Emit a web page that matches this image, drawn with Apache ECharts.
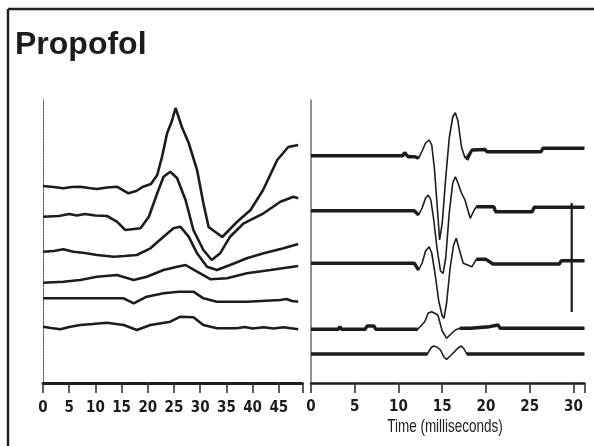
<!DOCTYPE html>
<html>
<head>
<meta charset="utf-8">
<script src="https://cdn.jsdelivr.net/npm/echarts@6/dist/echarts.min.js"></script>
<style>html,body{margin:0;padding:0;background:#fff}#c{width:594px;height:446px}</style>
</head>
<body>
<div id="c"></div>
<script>
// ---- Data (arbitrary vertical units; traces offset) ----
const titleText = "Propofol";
const leftTicks = [0,5,10,15,20,25,30,35,40,45];
const rightTicks = [0,5,10,15,20,25,30];
const rightAxisName = "Time (milliseconds)";

// Left panel traces: [x, y]
const L1 = [[0,197],[2,196],[3.9,194.7],[5.5,196],[7.1,196.3],[8.8,195],[10.3,194],[12.2,195.5],[14.1,196.3],[16.3,189.7],[17.8,192],[19.1,196.3],[20.6,199],[21.8,208],[22.7,226],[23.7,250],[24.6,262],[25.3,275],[26.5,256],[27.8,240],[29.4,213],[30.6,180],[31.6,156],[34.2,146],[37,161],[39.6,173],[42,193],[44.7,223],[46.8,236],[48.7,238]];
const L2 = [[0,166.3],[3,167],[5,169],[6.5,167.5],[8,169],[10,167.5],[12.2,167],[14.1,161.3],[15.7,153],[18.6,154.7],[20.2,166.3],[21.8,189.7],[23,206.3],[24.3,211.3],[25.6,204.7],[27.2,183],[28.7,153],[30.6,133],[32.2,123],[33.8,129.7],[35.7,146.3],[38.3,159.7],[42.1,169.7],[45.3,181.3],[47.8,186.3],[48.7,184.7]];
const L3 = [[0,131.3],[2,132],[3.9,133.7],[5.8,131.3],[8,130],[10.3,128],[13.5,126.3],[15.5,127],[17.9,128],[20.5,134.7],[23,146.3],[24.9,154.7],[26.2,156.3],[27.8,146.3],[29.4,129.7],[31.3,116.3],[33.2,113],[35.7,118],[38.9,124.7],[42.1,129.7],[45.9,134.7],[48.7,139]];
const L4 = [[0,100.3],[3.9,101.3],[7.1,103],[10.3,106.3],[14.1,108],[17.3,103],[19.8,106.3],[23,113],[25.6,116.3],[27.2,118],[29.4,111.3],[32,103.7],[35.1,104.7],[38.9,109.7],[43.4,113],[48.7,117]];
const L5 = [[0,84.7],[15.4,84.7],[17.3,79.7],[19.8,86.3],[23,89.7],[25.9,91.3],[28.7,91.3],[30.6,84.7],[33.2,81.3],[38.9,81.3],[45.3,83],[46.5,84],[47.5,82],[48.7,81.3]];
const L6 = [[0,56.3],[1.5,55],[3.3,53.7],[5,56],[7.1,58],[9.5,59],[12.2,60.3],[15.4,58],[17.9,53],[20.5,58],[24.3,61.3],[26.2,66.3],[28.7,65.7],[30.6,58],[33.2,54.7],[37,54.7],[38.5,56],[40,54.5],[42.1,55.7],[44,54.5],[45.9,55.7],[48.7,53.7]];

// Right panel traces: [time ms, y]
const R1 = [[0,227.3],[10.5,227.3],[10.7,230.5],[10.9,230.5],[11.1,226.3],[11.9,226.3],[12.3,224.7],[12.7,232],[13.1,240],[13.5,243],[13.8,238],[14.1,215],[14.4,180],[14.7,143],[15.0,160],[15.4,205],[15.8,245],[16.2,266],[16.5,270.3],[16.8,262],[17.2,236],[17.6,225],[17.8,223],[18.2,230],[18.4,233],[19.9,233.5],[20.1,231.3],[26.3,231.3],[26.5,234.7],[31.25,234.7]];
const R2 = [[0,172.3],[11.8,172.3],[12.3,168],[12.7,175],[13.1,185],[13.4,188],[13.7,183],[14.0,165],[14.4,135],[14.8,112],[15.1,109.7],[15.4,125],[15.8,170],[16.2,200],[16.5,206.3],[16.8,200],[17.2,190],[17.6,183],[18.2,164.7],[18.6,172],[18.9,176.3],[20.9,176.3],[21.1,171.3],[25.3,171.3],[25.5,175.7],[31.25,175.7]];
const R3 = [[0,119.7],[11.8,119.7],[12.3,113],[12.7,120],[13.1,132],[13.5,136.3],[13.8,130],[14.2,108],[14.6,82],[15.0,67],[15.2,64.7],[15.5,80],[15.9,115],[16.3,138],[16.6,144.7],[16.9,135],[17.4,119.7],[18.4,116.3],[18.9,123.7],[20.0,123.7],[20.8,119],[28.4,119],[28.6,122.3],[31.25,122.3]];
const R4 = [[0,53.7],[3.1,53.7],[3.3,56.3],[3.5,53.7],[6.2,53.7],[6.4,57],[7.2,57],[7.4,53.7],[12.2,53.7],[13.0,61.3],[13.4,70],[13.8,71.3],[14.5,68],[15.0,52],[15.5,44.7],[16.0,49],[16.5,53],[17.0,54.7],[18.2,54.7],[18.4,56.3],[20.4,56.3],[20.6,58],[21.4,58],[21.6,54.7],[31.25,54.7]];
const R5 = [[0,29],[13.3,29],[13.7,35],[14.0,37],[14.4,36],[14.8,33],[15.2,26],[15.5,23.7],[15.9,27],[16.4,31.3],[16.8,35],[17.2,37],[17.5,34],[17.8,29],[31.25,29]];
const scaleBar = [[29.8,180],[29.8,71]];

const INK = '#1c1c1c';
const labelFont = "'Liberation Sans Narrow','DejaVu Sans Condensed','Roboto Condensed',sans-serif";

function leftSeries(d){
  return {type:'line', xAxisIndex:0, yAxisIndex:0, data:d, showSymbol:false, symbol:'none',
    lineStyle:{color:INK, width:2.6}, animation:false};
}
function rightThin(d){
  return {type:'line', xAxisIndex:1, yAxisIndex:1, data:d, symbol:'none',
    lineStyle:{color:INK, width:1.6}, animation:false};
}
// thick baseline segments (outside the evoked waveform window)
function rightThick(d, a, b){
  const out = [];
  let gap = false;
  d.forEach(p => {
    if (p[0] <= a || p[0] >= b) { out.push(p); gap = false; }
    else if (!gap) { out.push([p[0], null]); gap = true; }
  });
  return {type:'line', xAxisIndex:1, yAxisIndex:1, data:out, symbol:'none', connectNulls:false,
    lineStyle:{color:INK, width:3.4}, animation:false};
}

const chart = echarts.init(document.getElementById('c'), null, {renderer:'canvas'});
chart.setOption({
  backgroundColor:'#fff',
  title:{text:titleText, left:10, top:24, textStyle:{fontFamily:"'Liberation Sans',Arial,sans-serif", fontWeight:'bold', fontSize:32, color:INK}},
  graphic:[
    {type:'line', shape:{x1:8, y1:9, x2:594, y2:9}, style:{stroke:'#222', lineWidth:2.5}},
    {type:'line', shape:{x1:8, y1:9, x2:8, y2:446}, style:{stroke:'#222', lineWidth:2.5}},
    {type:'text', x:445, y:427, scaleX:0.71,
      style:{text:rightAxisName, fontFamily:"'Liberation Sans',Arial,sans-serif", fontSize:19, fill:'#222',
        align:'center', verticalAlign:'middle'}}
  ],
  grid:[
    {left:43, top:100, width:259.4, height:283},
    {left:311, top:100, width:273.4, height:283}
  ],
  xAxis:[
    {gridIndex:0, type:'value', min:0, max:49.5, interval:5,
      axisLine:{show:true, onZero:false, lineStyle:{color:INK, width:3}},
      axisTick:{show:true, inside:false, length:10, lineStyle:{color:'#333', width:1.6}},
      axisLabel:{show:true, margin:18, fontFamily:labelFont, fontWeight:'bold', fontSize:15, color:INK,
        formatter:v => leftTicks.indexOf(v) >= 0 ? String(v) : ''},
      splitLine:{show:false}},
    {gridIndex:1, type:'value', min:0, max:31.25, interval:5,
      axisLine:{show:true, onZero:false, lineStyle:{color:INK, width:2.6}},
      axisTick:{show:true, inside:false, length:10, lineStyle:{color:'#333', width:1.6}},
      axisLabel:{show:true, margin:17, fontFamily:labelFont, fontWeight:'bold', fontSize:15, color:INK,
        formatter:v => rightTicks.indexOf(v) >= 0 ? String(v) : ''},
      splitLine:{show:false}}
  ],
  yAxis:[
    {gridIndex:0, type:'value', min:0, max:283,
      axisLine:{show:true, onZero:false, lineStyle:{color:'#555', width:1, type:[2,1]}},
      axisTick:{show:false}, axisLabel:{show:false}, splitLine:{show:false}},
    {gridIndex:1, type:'value', min:0, max:283,
      axisLine:{show:true, onZero:false, lineStyle:{color:'#777', width:1.6}},
      axisTick:{show:false}, axisLabel:{show:false}, splitLine:{show:false}}
  ],
  series:[
    leftSeries(L1), leftSeries(L2), leftSeries(L3), leftSeries(L4), leftSeries(L5), leftSeries(L6),
    rightThin(R1), rightThin(R2), rightThin(R3), rightThin(R4), rightThin(R5),
    rightThick(R1, 12.3, 17.8), rightThick(R2, 12.3, 18.9), rightThick(R3, 12.3, 18.9),
    rightThick(R4, 12.2, 17.0), rightThick(R5, 13.3, 17.8),
    {type:'line', xAxisIndex:1, yAxisIndex:1, data:scaleBar, symbol:'none',
      lineStyle:{color:INK, width:2.2}, animation:false}
  ]
});
</script>
</body>
</html>
